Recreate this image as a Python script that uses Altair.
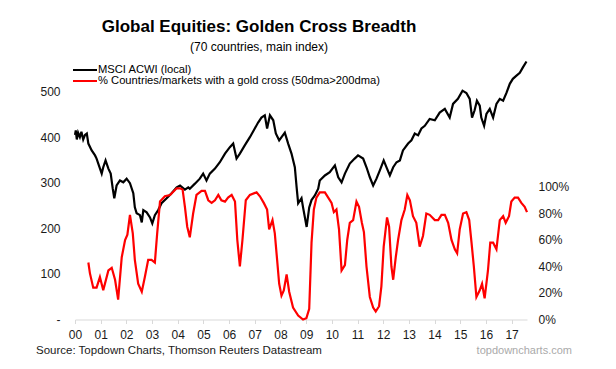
import altair as alt
import pandas as pd

# ---- MSCI ACWI (local), left axis ----
acwi_year = [2000.00, 2000.03, 2000.07, 2000.12, 2000.19, 2000.25, 2000.32, 2000.39, 2000.46, 2000.52,
             2000.65, 2000.78, 2000.84, 2001.04, 2001.10, 2001.19, 2001.30, 2001.39, 2001.47, 2001.53,
             2001.62, 2001.75, 2001.88, 2002.01, 2002.14, 2002.27, 2002.33, 2002.40, 2002.53, 2002.60,
             2002.66, 2002.79, 2002.92, 2003.01, 2003.11, 2003.24, 2003.37, 2003.57, 2003.76, 2003.96,
             2004.09, 2004.28, 2004.41, 2004.47, 2004.67, 2004.86, 2004.99, 2005.12, 2005.25, 2005.45,
             2005.64, 2005.84, 2006.03, 2006.16, 2006.29, 2006.42, 2006.61, 2006.81, 2007.00, 2007.13,
             2007.26, 2007.39, 2007.48, 2007.59, 2007.72, 2007.82, 2007.95, 2008.17, 2008.30, 2008.43,
             2008.56, 2008.63, 2008.69, 2008.82, 2008.88, 2009.02, 2009.12, 2009.21, 2009.34, 2009.47,
             2009.53, 2009.73, 2009.92, 2010.12, 2010.25, 2010.38, 2010.51, 2010.70, 2010.89, 2011.02,
             2011.22, 2011.35, 2011.48, 2011.61, 2011.74, 2011.87, 2012.02, 2012.15, 2012.26, 2012.39,
             2012.52, 2012.65, 2012.77, 2012.97, 2013.10, 2013.23, 2013.36, 2013.49, 2013.62, 2013.81,
             2014.01, 2014.20, 2014.40, 2014.59, 2014.72, 2014.91, 2015.09, 2015.24, 2015.37, 2015.46,
             2015.56, 2015.65, 2015.76, 2015.82, 2015.93, 2016.02, 2016.15, 2016.28, 2016.41, 2016.54,
             2016.67, 2016.80, 2016.93, 2017.05, 2017.19, 2017.32, 2017.44, 2017.58]
acwi_value = [405, 415, 395, 410, 400, 412, 395, 405, 408, 386,
              371, 360, 353, 320, 334, 349, 331, 320, 287, 266,
              294, 305, 301, 309, 299, 277, 246, 233, 229, 213,
              240, 235, 224, 211, 229, 240, 255, 266, 277, 290,
              294, 285, 290, 287, 298, 309, 320, 305, 320, 331,
              345, 364, 378, 386, 353, 364, 382, 400, 419, 432,
              443, 448, 419, 448, 437, 408, 393, 410, 386, 364,
              334, 290, 255, 266, 246, 203, 246, 262, 272, 287,
              305, 316, 323, 338, 312, 301, 320, 342, 353, 360,
              353, 334, 312, 294, 309, 327, 349, 331, 316, 334,
              345, 349, 371, 386, 393, 408, 404, 419, 425, 440,
              437, 454, 462, 443, 473, 484, 502, 497, 484, 443,
              459, 480, 469, 443, 425, 451, 462, 443, 473, 484,
              480, 497, 517, 528, 535, 541, 553, 566]

# ---- % countries with a golden cross, right axis ----
gold_year = [2000.52, 2000.58, 2000.71, 2000.84, 2000.97, 2001.10, 2001.30, 2001.43, 2001.56, 2001.68,
             2001.82, 2001.95, 2002.04, 2002.14, 2002.25, 2002.33, 2002.46, 2002.60, 2002.72, 2002.85,
             2002.98, 2003.11, 2003.20, 2003.31, 2003.50, 2003.70, 2003.96, 2004.09, 2004.19, 2004.28,
             2004.37, 2004.47, 2004.60, 2004.73, 2004.93, 2005.06, 2005.19, 2005.32, 2005.45, 2005.58,
             2005.70, 2005.84, 2005.96, 2006.10, 2006.23, 2006.32, 2006.42, 2006.52, 2006.65, 2006.81,
             2007.07, 2007.20, 2007.35, 2007.48, 2007.56, 2007.69, 2007.78, 2007.87, 2007.95, 2008.04,
             2008.13, 2008.24, 2008.34, 2008.49, 2008.69, 2008.88, 2009.01, 2009.12, 2009.21, 2009.30,
             2009.40, 2009.53, 2009.73, 2009.86, 2009.99, 2010.08, 2010.18, 2010.28, 2010.38, 2010.51,
             2010.60, 2010.70, 2010.83, 2010.96, 2011.06, 2011.17, 2011.25, 2011.35, 2011.48, 2011.61,
             2011.71, 2011.84, 2011.93, 2012.02, 2012.15, 2012.23, 2012.32, 2012.39, 2012.49, 2012.58,
             2012.71, 2012.84, 2012.94, 2013.04, 2013.16, 2013.29, 2013.42, 2013.55, 2013.68, 2013.81,
             2014.01, 2014.14, 2014.27, 2014.40, 2014.53, 2014.66, 2014.79, 2014.88, 2014.98, 2015.11,
             2015.24, 2015.35, 2015.44, 2015.53, 2015.63, 2015.76, 2015.85, 2015.95, 2016.08, 2016.17,
             2016.28, 2016.41, 2016.54, 2016.67, 2016.77, 2016.90, 2016.99, 2017.12, 2017.25, 2017.38,
             2017.51, 2017.60]
gold_pct = [43, 35, 24, 24, 32, 22, 37, 39, 30, 15,
            47, 60, 64, 79, 65, 45, 27, 21, 32, 45,
            45, 43, 65, 89, 93, 94, 99, 99, 98, 85,
            70, 62, 80, 94, 97, 97, 90, 88, 90, 94,
            90, 89, 92, 94, 89, 60, 40, 60, 90, 94,
            96, 93, 88, 83, 68, 75, 65, 45, 27, 18,
            22, 34, 21, 9, 3, 0, 1, 8, 58, 83,
            92, 96, 96, 92, 88, 81, 83, 68, 37, 41,
            60, 73, 75, 89, 85, 73, 66, 40, 17, 9,
            6, 10, 25, 55, 77, 70, 40, 30, 47, 60,
            75, 83, 94, 90, 78, 73, 55, 63, 80, 79,
            75, 75, 79, 79, 73, 60, 53, 50, 68, 80,
            81, 75, 58, 40, 17, 22, 27, 16, 37, 58,
            58, 53, 75, 78, 73, 78, 89, 92, 92, 88,
            85, 81]

year_ticks = list(range(2000, 2018))
left_ticks = [0, 100, 200, 300, 400, 500]
right_ticks = [0, 0.2, 0.4, 0.6, 0.8, 1.0]

title_text = "Global Equities: Golden Cross Breadth"
subtitle_text = "(70 countries, main index)"
legend_black = "MSCI ACWI (local)"
legend_red = "% Countries/markets with a gold cross (50dma>200dma)"
source_text = "Source: Topdown Charts, Thomson Reuters Datastream"
site_text = "topdowncharts.com"

FONT = "Liberation Sans"

df_a = pd.DataFrame({"year": acwi_year, "value": acwi_value})
df_g = pd.DataFrame({"year": gold_year, "pct": [p / 100 for p in gold_pct]})

xscale = alt.Scale(domain=[2000, 2017.6], nice=False, zero=False)


def xaxis():
    return alt.Axis(values=year_ticks, labelExpr="substring(toString(datum.value), 2, 4)",
                    title=None, grid=False, domainColor="#d9d9d9", tickColor="#d9d9d9",
                    tickSize=4, labelPadding=6, labelFlush=False, labelOverlap=False)


black = alt.Chart(df_a).mark_line(color="black", strokeWidth=2.2).encode(
    x=alt.X("year:Q", scale=xscale, axis=xaxis()),
    y=alt.Y("value:Q", scale=alt.Scale(domain=[0, 600], nice=False),
            axis=alt.Axis(orient="left", values=left_ticks,
                          labelExpr="datum.value == 0 ? '-' : datum.label",
                          domain=False, ticks=False, grid=False, title=None, labelPadding=15)),
)

red = alt.Chart(df_g).mark_line(color="#ff0000", strokeWidth=2.2).encode(
    x=alt.X("year:Q", scale=xscale, axis=xaxis()),
    y=alt.Y("pct:Q", scale=alt.Scale(domain=[0, 2.064], nice=False),
            axis=alt.Axis(orient="right", values=right_ticks, format=".0%",
                          domain=False, ticks=False, grid=False, title=None, labelPadding=11)),
)

lines = alt.layer(black, red).resolve_scale(y="independent")

one = alt.Data(values=[{}])


def txt(text, x, y, size, align="left", weight="normal", color="black"):
    return alt.Chart(one).mark_text(text=text, align=align, baseline="middle", font=FONT,
                                    fontSize=size, fontWeight=weight, color=color).encode(
        x=alt.value(x), y=alt.value(y))


def seg(color, y):
    return alt.Chart(one).mark_rule(color=color, strokeWidth=2).encode(
        x=alt.value(-2), x2=alt.value(22), y=alt.value(y))


chart = alt.layer(
    lines,
    txt(title_text, 184, -19, 17, align="center", weight="bold"),
    txt(subtitle_text, 184, 1, 12, align="center"),
    seg("black", 24),
    seg("#ff0000", 35),
    txt(legend_black, 23, 24, 11.2),
    txt(legend_red, 23, 35, 11.2),
    txt(source_text, -39, 305, 11.5, color="#1a1a1a"),
    txt(site_text, 497, 305, 11, align="right", color="#aaaaaa"),
).properties(
    width=452, height=273.5,
    autosize=alt.AutoSizeParams(type="none"),
    padding={"left": 67, "top": 38, "right": 70, "bottom": 38},
).configure_view(stroke=None).configure_axis(
    labelFont=FONT, labelFontSize=12, labelColor="#1a1a1a"
)

chart.save("out.html", embed_options={"renderer": "svg", "actions": False})
